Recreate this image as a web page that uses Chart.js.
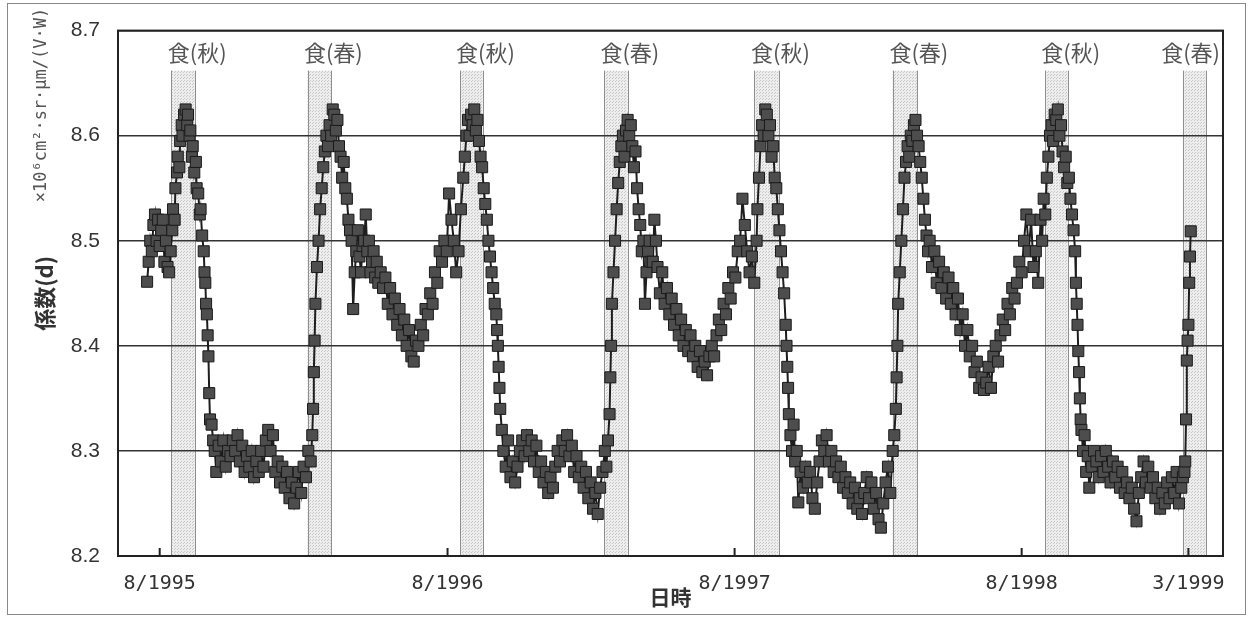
<!DOCTYPE html>
<html>
<head>
<meta charset="utf-8">
<script src="https://cdn.jsdelivr.net/npm/chart.js@4.4.1/dist/chart.umd.min.js"></script>
<style>
  body { margin: 0; background: #fff; }
</style>
</head>
<body>
<canvas id="keisu" width="1248" height="618"></canvas>
<script>
// 日数は 1995/8/1 からの経過日
const tickDays = [0, 366, 731, 1096, 1308];
const tickLabels = ['8/1995', '8/1996', '8/1997', '8/1998', '3/1999'];

// 食の期間
const bandStart = [15, 188, 382, 565, 756, 932, 1126, 1301];
const bandEnd = [45, 218, 411, 595, 787, 963, 1155, 1331];
const bandLabels = ['食(秋)', '食(春)', '食(秋)', '食(春)', '食(秋)', '食(春)', '食(秋)', '食(春)'];

// [日, 係数]
const aki1995 = [[-16,8.461],[-14,8.48],[-12,8.50],[-10,8.49],[-8,8.515],[-6,8.525],[-4,8.50],[-2,8.52],[0,8.495],[2,8.51],[4,8.52],[6,8.48],[8,8.50],[10,8.475],[12,8.47],
  [14,8.49],[16,8.51],[17,8.53],[19,8.52],[20,8.55],[22,8.565],[23,8.58],[25,8.57],[26,8.595],[28,8.61],[29,8.60],[31,8.62],[33,8.625],[35,8.61],[36,8.62],[38,8.60],[39,8.605],
  [41,8.58],[42,8.59],[44,8.565],[46,8.575],[47,8.55],[49,8.545],[51,8.525],[52,8.53],[54,8.505],[56,8.49],[57,8.47],[58,8.46],[59,8.44],[60,8.43],[61,8.41],[62,8.39],[63,8.355],[64,8.33]];

const fuyu1995 = [[66,8.325],[68,8.31],[70,8.30],[72,8.28],[75,8.305],[78,8.29],[81,8.31],[84,8.285],[87,8.30],[90,8.295],[93,8.31],[96,8.30],[99,8.315],[102,8.29],[105,8.305],
  [108,8.28],[111,8.295],[114,8.285],[117,8.30],[120,8.275],[123,8.29],[126,8.28],[129,8.30],[132,8.285],[135,8.31],[138,8.32],[141,8.30],[144,8.315],[147,8.28],[150,8.29],
  [153,8.27],[156,8.285],[159,8.265],[162,8.28],[165,8.255],[168,8.27],[171,8.25],[174,8.265],[177,8.28],[180,8.26],[183,8.285],[186,8.275],[189,8.30],[192,8.29],[194,8.315]];

const nen1996 = [[195,8.34],[196,8.375],[197,8.405],[198,8.44],[200,8.475],[202,8.50],[204,8.53],[206,8.55],[208,8.57],[210,8.585],[212,8.60],[214,8.59],[216,8.61],[218,8.60],
  [220,8.625],[222,8.62],[224,8.605],[226,8.615],[228,8.59],[230,8.58],[232,8.56],[234,8.575],[236,8.55],[238,8.54],[240,8.52],[242,8.51],[244,8.50],[246,8.435],[248,8.47],
  [250,8.49],[252,8.51],[254,8.485],[256,8.47],[258,8.495],[260,8.50],[262,8.525],[264,8.49],[266,8.50],[268,8.47],[270,8.48],[272,8.49],[274,8.465],[276,8.48],[278,8.46],
  [281,8.47],[284,8.455],[287,8.465],[290,8.44],[293,8.455],[296,8.43],[299,8.445],[302,8.42],[305,8.435],[308,8.41],[311,8.425],[314,8.40],[317,8.415],[320,8.39],[323,8.385],
  [326,8.405],[329,8.40],[332,8.42],[335,8.41],[338,8.435],[341,8.43],[344,8.45],[347,8.44],[350,8.47],[353,8.46],[356,8.49],[359,8.48],[362,8.50],[365,8.49],[368,8.545],
  [371,8.52],[374,8.50],[377,8.47],[380,8.49],[383,8.53],[386,8.56],[388,8.58],[390,8.60],[392,8.615],[394,8.60],[396,8.62],[398,8.61],[400,8.625],[402,8.605],[404,8.615],
  [406,8.595],[408,8.58],[410,8.57],[412,8.55],[414,8.535],[416,8.52],[418,8.50],[420,8.485],[422,8.47],[424,8.455],[426,8.44],[428,8.43],[429,8.415],[430,8.40],[431,8.38],
  [432,8.36],[433,8.34]];

const fuyu1996 = [[435,8.32],[437,8.30],[440,8.285],[443,8.31],[446,8.275],[449,8.29],[452,8.27],[455,8.285],[458,8.30],[461,8.31],[464,8.295],[467,8.315],[470,8.30],[473,8.31],
  [476,8.29],[479,8.305],[482,8.28],[485,8.29],[488,8.27],[491,8.28],[494,8.26],[497,8.275],[500,8.265],[503,8.285],[506,8.30],[509,8.29],[512,8.31],[515,8.30],[518,8.315],
  [521,8.295],[524,8.305],[527,8.28],[530,8.295],[533,8.275],[536,8.285],[539,8.265],[542,8.28],[545,8.255],[548,8.27],[551,8.245],[554,8.26],[557,8.24],[560,8.265],[563,8.28],
  [566,8.30],[568,8.285],[570,8.31]];

const nen1997 = [[572,8.335],[573,8.37],[574,8.40],[575,8.44],[577,8.47],[579,8.50],[581,8.53],[583,8.555],[585,8.575],[587,8.59],[589,8.60],[591,8.58],[593,8.605],[595,8.615],
  [597,8.60],[599,8.61],[601,8.59],[603,8.57],[605,8.585],[607,8.55],[609,8.53],[611,8.515],[613,8.49],[615,8.50],[617,8.44],[619,8.47],[621,8.49],[623,8.50],[625,8.48],
  [627,8.48],[629,8.52],[631,8.50],[633,8.475],[636,8.45],[639,8.47],[642,8.44],[645,8.455],[648,8.43],[651,8.445],[654,8.42],[657,8.435],[660,8.41],[663,8.425],[666,8.40],
  [669,8.415],[672,8.395],[675,8.41],[678,8.39],[681,8.40],[684,8.38],[687,8.395],[690,8.375],[693,8.385],[696,8.372],[699,8.39],[702,8.40],[705,8.39],[708,8.41],[711,8.425],
  [714,8.415],[717,8.44],[720,8.43],[723,8.455],[726,8.445],[729,8.47],[732,8.465],[735,8.49],[738,8.50],[741,8.54],[744,8.515],[747,8.49],[750,8.47],[753,8.485],[756,8.46],
  [759,8.50],[760,8.53],[762,8.56],[764,8.59],[766,8.61],[768,8.60],[770,8.625],[772,8.62],[774,8.60],[776,8.61],[778,8.58],[780,8.59],[782,8.56],[784,8.55],[786,8.53],
  [788,8.51],[790,8.49],[792,8.47],[794,8.45],[796,8.42],[797,8.40],[798,8.38],[799,8.36],[800,8.335]];

const fuyu1997 = [[802,8.315],[804,8.30],[806,8.325],[808,8.29],[810,8.30],[812,8.251],[815,8.28],[818,8.265],[821,8.285],[824,8.27],[827,8.28],[830,8.255],[833,8.245],[836,8.27],
  [839,8.29],[842,8.31],[845,8.30],[848,8.315],[851,8.29],[854,8.30],[857,8.28],[860,8.29],[863,8.275],[866,8.285],[869,8.265],[872,8.275],[875,8.26],[878,8.27],[881,8.25],
  [884,8.265],[887,8.245],[890,8.255],[893,8.24],[896,8.26],[899,8.275],[902,8.255],[905,8.27],[908,8.245],[911,8.26],[914,8.235],[917,8.227],[920,8.25],[923,8.27],[926,8.285],
  [929,8.26],[932,8.30],[934,8.315]];

const nen1998 = [[936,8.34],[937,8.37],[938,8.40],[939,8.44],[941,8.47],[943,8.50],[945,8.53],[947,8.56],[949,8.575],[951,8.59],[953,8.58],[955,8.60],[957,8.595],[959,8.61],
  [961,8.615],[963,8.60],[965,8.59],[967,8.575],[969,8.56],[971,8.54],[973,8.52],[975,8.505],[977,8.49],[979,8.50],[982,8.475],[985,8.49],[988,8.46],[991,8.48],[994,8.455],
  [997,8.47],[1000,8.445],[1003,8.465],[1006,8.44],[1009,8.455],[1012,8.43],[1015,8.445],[1018,8.415],[1021,8.43],[1024,8.40],[1027,8.415],[1030,8.39],[1033,8.40],[1036,8.375],
  [1039,8.385],[1042,8.36],[1045,8.37],[1048,8.358],[1051,8.365],[1054,8.38],[1057,8.36],[1060,8.39],[1063,8.40],[1066,8.385],[1069,8.41],[1072,8.425],[1075,8.415],[1078,8.44],
  [1081,8.43],[1084,8.455],[1087,8.445],[1090,8.46],[1093,8.48],[1096,8.47],[1099,8.50],[1102,8.525],[1105,8.49],[1108,8.52],[1111,8.475],[1114,8.49],[1117,8.46],[1120,8.52],
  [1122,8.50],[1124,8.54],[1126,8.525],[1128,8.56],[1130,8.58],[1132,8.60],[1134,8.61],[1136,8.595],[1138,8.62],[1140,8.615],[1142,8.625],[1144,8.60],[1146,8.61],[1148,8.585],
  [1150,8.57],[1152,8.58],[1154,8.555],[1156,8.56],[1158,8.54],[1160,8.525],[1162,8.51],[1164,8.49],[1165,8.46],[1166,8.44],[1167,8.42],[1168,8.395],[1169,8.375],[1170,8.35],
  [1171,8.33]];

const fuyu1998 = [[1172,8.32],[1174,8.30],[1176,8.315],[1178,8.28],[1180,8.295],[1182,8.265],[1185,8.285],[1188,8.30],[1191,8.29],[1194,8.275],[1197,8.295],[1200,8.28],[1203,8.30],
  [1206,8.285],[1209,8.27],[1212,8.29],[1215,8.275],[1218,8.285],[1221,8.265],[1224,8.28],[1227,8.26],[1230,8.27],[1233,8.255],[1236,8.265],[1239,8.245],[1242,8.233],[1245,8.26],
  [1248,8.275],[1251,8.29],[1254,8.27],[1257,8.285],[1260,8.265],[1263,8.275],[1266,8.255],[1269,8.265],[1272,8.245],[1275,8.26],[1278,8.25],[1281,8.27],[1284,8.255],[1287,8.275],
  [1290,8.26],[1293,8.28],[1296,8.25],[1299,8.265],[1301,8.275],[1303,8.28],[1304,8.29],[1305,8.33],[1306,8.386],[1307,8.405],[1308,8.42],[1309,8.46],[1310,8.485],[1311,8.509]];

const series = [].concat(aki1995, fuyu1995, nen1996, fuyu1996, nen1997, fuyu1997, nen1998, fuyu1998)
  .map(p => ({ x: p[0], y: p[1] }));

// 食の帯の網かけ
const mesh = document.createElement('canvas');
mesh.width = 3; mesh.height = 3;
const mctx = mesh.getContext('2d');
mctx.fillStyle = '#ededed';
mctx.fillRect(0, 0, 3, 3);
mctx.fillStyle = '#c8c8c8';
mctx.fillRect(0, 0, 1, 1);
mctx.fillRect(1, 2, 1, 1);

const shoku = {
  id: 'shoku',
  beforeDraw(chart) {
    const ctx = chart.ctx;
    const x = chart.scales.x;
    const area = chart.chartArea;
    const top = area.top + 40;
    ctx.save();
    ctx.fillStyle = ctx.createPattern(mesh, 'repeat');
    ctx.strokeStyle = '#8f8f8f';
    ctx.lineWidth = 1;
    bandStart.forEach((s, i) => {
      const x0 = x.getPixelForValue(s);
      const x1 = x.getPixelForValue(bandEnd[i]);
      ctx.fillRect(x0, top, x1 - x0, area.bottom - top);
      ctx.beginPath();
      ctx.moveTo(Math.round(x0) + 0.5, top);
      ctx.lineTo(Math.round(x0) + 0.5, area.bottom);
      ctx.moveTo(Math.round(x1) + 0.5, top);
      ctx.lineTo(Math.round(x1) + 0.5, area.bottom);
      ctx.stroke();
    });
    ctx.fillStyle = '#555';
    ctx.font = '22px "Noto Sans CJK JP"';
    ctx.textAlign = 'center';
    ctx.textBaseline = 'middle';
    bandLabels.forEach((t, i) => {
      const w = ctx.measureText(t).width;
      let cx = (x.getPixelForValue(bandStart[i]) + x.getPixelForValue(bandEnd[i])) / 2 + 14;
      cx = Math.min(cx, area.right - w / 2 - 3);
      ctx.fillText(t, cx, area.top + 22);
    });
    ctx.restore();
  },
  afterDraw(chart) {
    const ctx = chart.ctx;
    const x = chart.scales.x;
    const area = chart.chartArea;
    ctx.save();
    // 枠
    ctx.strokeStyle = '#222';
    ctx.lineWidth = 2;
    ctx.strokeRect(area.left, area.top, area.right - area.left, area.bottom - area.top);
    // 目盛り
    tickDays.forEach(d => {
      const px = x.getPixelForValue(d);
      ctx.beginPath();
      ctx.moveTo(px, area.bottom);
      ctx.lineTo(px, area.bottom - 8);
      ctx.stroke();
    });
    // 外枠
    ctx.strokeStyle = '#888';
    ctx.lineWidth = 1;
    ctx.strokeRect(7.5, 3.5, 1238, 611);
    // 単位
    ctx.fillStyle = '#555';
    ctx.font = '17px "DejaVu Sans Mono"';
    ctx.textAlign = 'center';
    ctx.textBaseline = 'middle';
    ctx.translate(42, 105);
    ctx.rotate(-Math.PI / 2);
    ctx.fillText('×10⁶cm²·sr·μm/(V·W)', 0, 0);
    ctx.restore();
  }
};

new Chart(document.getElementById('keisu'), {
  type: 'line',
  data: {
    datasets: [{
      data: series,
      borderColor: '#1e1e1e',
      borderWidth: 2,
      pointStyle: 'rect',
      pointRadius: 7.8,
      pointBackgroundColor: '#4d4d4d',
      pointBorderColor: '#1a1a1a',
      pointBorderWidth: 1,
      tension: 0
    }]
  },
  options: {
    responsive: false,
    animation: false,
    devicePixelRatio: 1,
    layout: { padding: { left: 0, right: 25, top: 28, bottom: 0 } },
    plugins: {
      legend: { display: false },
      tooltip: { enabled: false }
    },
    scales: {
      x: {
        type: 'linear',
        min: -53,
        max: 1352,
        afterFit: s => { s.height = 62; },
        afterBuildTicks: s => { s.ticks = tickDays.map(v => ({ value: v })); },
        ticks: {
          callback: (v) => tickLabels[tickDays.indexOf(v)],
          autoSkip: false,
          maxRotation: 0,
          padding: 16,
          color: '#333',
          font: { family: 'DejaVu Sans Mono', size: 20 }
        },
        grid: { drawOnChartArea: false, drawTicks: false },
        border: { color: '#222', width: 2 },
        title: {
          display: true,
          text: '日時',
          color: '#333',
          padding: { top: 0, bottom: 8 },
          font: { family: 'Noto Sans CJK JP', size: 21, weight: 'bold' }
        }
      },
      y: {
        min: 8.2,
        max: 8.7,
        afterFit: s => { s.width = 118; },
        ticks: {
          stepSize: 0.1,
          padding: 18,
          color: '#333',
          callback: v => v.toFixed(1),
          font: { family: 'Liberation Sans', size: 21 }
        },
        grid: { color: '#333', lineWidth: 1.5, drawTicks: false },
        border: { color: '#222', width: 2 },
        title: {
          display: true,
          text: '係数(d)',
          color: '#333',
          padding: { top: 31, bottom: 0 },
          font: { family: 'Noto Sans CJK JP', size: 22, weight: 'bold' }
        }
      }
    }
  },
  plugins: [shoku]
});
</script>
</body>
</html>
